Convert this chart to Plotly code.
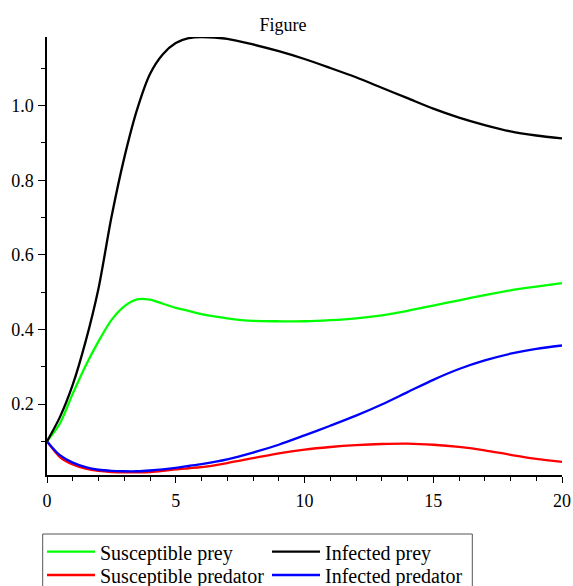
import plotly.graph_objects as go

t = [0, 0.5, 1, 1.5, 2, 2.5, 3, 3.5, 4, 4.5, 5, 5.5, 6, 7, 8, 9, 10, 11, 12, 13, 14, 15, 16, 17, 18, 19, 20]

susceptible_prey = [0.100, 0.148, 0.228, 0.303, 0.368, 0.425, 0.462, 0.481, 0.480, 0.469, 0.458,
                    0.450, 0.441, 0.430, 0.423, 0.422, 0.422, 0.425, 0.430, 0.438, 0.450, 0.464,
                    0.478, 0.492, 0.505, 0.515, 0.524]
infected_prey = [0.100, 0.165, 0.252, 0.368, 0.510, 0.700, 0.860, 0.990, 1.085, 1.138, 1.168,
                 1.181, 1.184, 1.179, 1.164, 1.146, 1.125, 1.101, 1.076, 1.048, 1.020, 0.992,
                 0.968, 0.948, 0.931, 0.920, 0.912]
susceptible_predator = [0.100, 0.058, 0.038, 0.027, 0.021, 0.018, 0.017, 0.017, 0.018, 0.021, 0.025,
                        0.028, 0.031, 0.042, 0.055, 0.068, 0.078, 0.085, 0.090, 0.093, 0.094, 0.091,
                        0.085, 0.076, 0.064, 0.053, 0.045]
infected_predator = [0.100, 0.063, 0.043, 0.031, 0.024, 0.021, 0.020, 0.020, 0.022, 0.025, 0.029,
                     0.034, 0.039, 0.052, 0.070, 0.091, 0.116, 0.142, 0.169, 0.199, 0.232, 0.265,
                     0.294, 0.317, 0.335, 0.348, 0.357]

x_ticks = [0, 5, 10, 15, 20]
y_ticks = [0.2, 0.4, 0.6, 0.8, 1.0]
y_tick_labels = ["0.2", "0.4", "0.6", "0.8", "1.0"]

# (name, values, colour, legend row)
series = [
    ("Susceptible prey", susceptible_prey, "#00ff00", "legend"),
    ("Infected prey", infected_prey, "#000000", "legend"),
    ("Susceptible predator", susceptible_predator, "#ff0000", "legend2"),
    ("Infected predator", infected_predator, "#0000ff", "legend2"),
]

FONT = "Liberation Serif, Times New Roman, serif"

fig = go.Figure()
for name, vals, col, lg in series:
    fig.add_trace(go.Scatter(x=t, y=vals, mode="lines", name=name, legend=lg,
                             line=dict(color=col, width=2.3, shape="spline", smoothing=0.8)))

W, H = 573, 586
ml, mr, mt, mb = 47, 11, 37, 111
PW, PH = W - ml - mr, H - mt - mb


def px_x(fx):
    return (fx - ml) / PW


def px_y(fy):
    return (H - mb - fy) / PH


legend_common = dict(orientation="h", xanchor="left", yanchor="middle",
                     bgcolor="rgba(0,0,0,0)", borderwidth=0,
                     font=dict(family=FONT, size=20, color="black"),
                     itemwidth=48, entrywidth=162, entrywidthmode="pixels",
                     traceorder="normal")

fig.update_layout(
    width=W, height=H,
    margin=dict(l=ml, r=mr, t=mt, b=mb, autoexpand=False),
    paper_bgcolor="white", plot_bgcolor="white",
    font=dict(family=FONT, size=18, color="black"),
    title=dict(text="Figure", x=283 / W, xref="container", xanchor="center",
               y=1 - 25 / H, yref="container", yanchor="middle",
               font=dict(family=FONT, size=18, color="black")),
    showlegend=True,
    legend=dict(x=px_x(42), y=px_y(551.7), **legend_common),
    legend2=dict(x=px_x(42), y=px_y(575), **legend_common),
    shapes=[dict(type="rect", xref="paper", yref="paper",
                 x0=px_x(42.7), x1=px_x(472.3), y0=px_y(534), y1=px_y(610),
                 line=dict(color="#555555", width=1), fillcolor="rgba(0,0,0,0)")],
    xaxis=dict(range=[0, 20], showline=True, linecolor="black", linewidth=1.5,
               showgrid=False, zeroline=False, ticks="outside", ticklen=6, tickwidth=1.2,
               tickcolor="black", tickvals=x_ticks, ticklabelstandoff=3,
               ticklabeloverflow="allow",
               tickfont=dict(family=FONT, size=18, color="black"),
               minor=dict(dtick=1, tick0=0, ticks="outside", ticklen=4, tickcolor="black",
                          tickwidth=1.2, showgrid=False)),
    yaxis=dict(range=[0.0099, 1.184], showline=True, linecolor="black", linewidth=1.5,
               showgrid=False, zeroline=False, ticks="outside", ticklen=7, tickwidth=1.2,
               tickcolor="black", tickvals=y_ticks, ticktext=y_tick_labels, ticklabelstandoff=1,
               tickfont=dict(family=FONT, size=18, color="black"),
               minor=dict(dtick=0.1, tick0=0, ticks="outside", ticklen=4, tickcolor="black",
                          tickwidth=1.2, showgrid=False)),
)

fig.write_html("out.html", config=dict(displayModeBar=False),
               post_script="document.body.style.margin='0';document.body.style.overflow='hidden';")
